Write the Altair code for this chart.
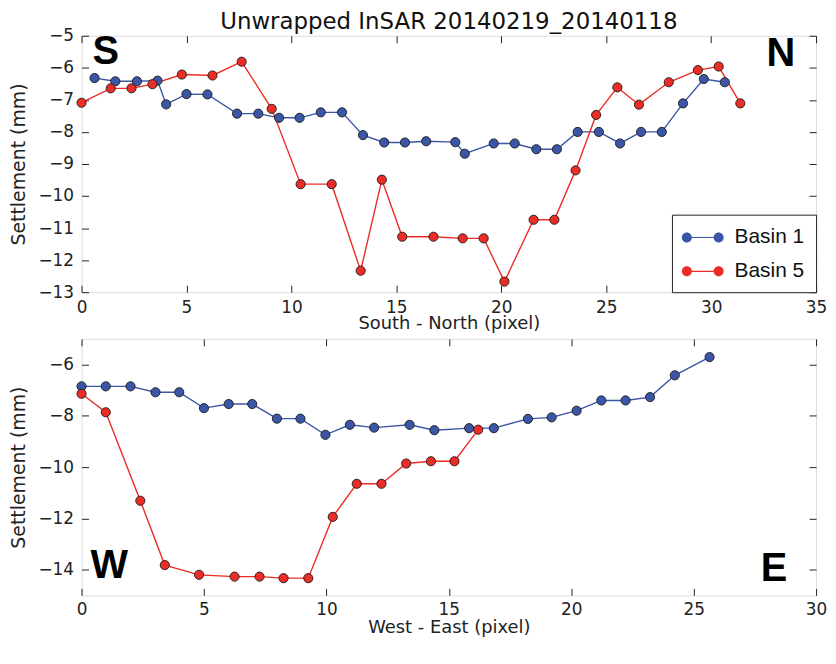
import altair as alt
import pandas as pd

# ---------------- data ----------------
series_names = ["Basin 1", "Basin 5"]
series_colors = ["#3b56a6", "#ec2d27"]

sn_b1_x = [0.62, 1.61, 2.64, 3.62, 4.03, 5.0, 6.0, 7.41, 8.42, 9.41, 10.39, 11.40, 12.41,
           13.41, 14.42, 15.41, 16.42, 17.81, 18.26, 19.64, 20.64, 21.67, 22.65, 23.64,
           24.65, 25.66, 26.66, 27.65, 28.66, 29.65, 30.65]
sn_b1_y = [-6.32, -6.42, -6.42, -6.40, -7.14, -6.82, -6.83, -7.43, -7.43, -7.56, -7.56, -7.39,
           -7.39, -8.10, -8.33, -8.33, -8.29, -8.32, -8.68, -8.36, -8.36, -8.54, -8.54, -8.0,
           -8.0, -8.36, -8.0, -8.0, -7.11, -6.35, -6.45]

sn_b5_x = [0.0, 1.39, 2.38, 3.38, 4.78, 6.24, 7.63, 9.06, 10.44, 11.92, 13.30, 14.31, 15.28,
           16.77, 18.16, 19.16, 20.15, 21.54, 22.53, 23.54, 24.52, 25.53, 26.56, 27.98,
           29.37, 30.36, 31.39]
sn_b5_y = [-7.09, -6.64, -6.64, -6.51, -6.21, -6.24, -5.81, -7.28, -9.63, -9.63, -12.33,
           -9.49, -11.27, -11.27, -11.32, -11.32, -12.67, -10.74, -10.74, -9.20, -7.47,
           -6.61, -7.15, -6.45, -6.07, -5.96, -7.11]

we_b1_x = [0.0, 0.99, 2.0, 3.02, 3.99, 5.0, 6.01, 6.97, 7.98, 8.94, 9.96, 10.96, 11.95,
           13.40, 14.41, 15.83, 16.84, 18.23, 19.2, 20.22, 21.23, 22.22, 23.22, 24.23, 25.65]
we_b1_y = [-6.85, -6.85, -6.85, -7.08, -7.08, -7.70, -7.54, -7.54, -8.11, -8.11, -8.74,
           -8.35, -8.46, -8.35, -8.56, -8.48, -8.48, -8.12, -8.06, -7.80, -7.40, -7.40,
           -7.27, -6.42, -5.71]

we_b5_x = [0.0, 0.99, 2.40, 3.40, 4.80, 6.25, 7.27, 8.25, 9.26, 10.26, 11.24, 12.25, 13.26,
           14.27, 15.23, 16.2]
we_b5_y = [-7.14, -7.86, -11.31, -13.82, -14.20, -14.27, -14.27, -14.33, -14.33, -11.94,
           -10.65, -10.65, -9.86, -9.77, -9.77, -8.54]

top_x_ticks = [0, 5, 10, 15, 20, 25, 30, 35]
top_y_ticks = [-13, -12, -11, -10, -9, -8, -7, -6, -5]
bot_x_ticks = [0, 5, 10, 15, 20, 25, 30]
bot_y_ticks = [-14, -12, -10, -8, -6]

# ---------------- tables ----------------
def make_df(xs1, ys1, xs5, ys5):
    rows = [{"x": a, "y": b, "series": series_names[0], "order": i} for i, (a, b) in enumerate(zip(xs1, ys1))]
    rows += [{"x": a, "y": b, "series": series_names[1], "order": i} for i, (a, b) in enumerate(zip(xs5, ys5))]
    return pd.DataFrame(rows)

top_df = make_df(sn_b1_x, sn_b1_y, sn_b5_x, sn_b5_y)
bot_df = make_df(we_b1_x, we_b1_y, we_b5_x, we_b5_y)

W, H = 739, 258
TICK = 7
FONT = "DejaVu Sans"
SANS = "Liberation Sans"

# legend symbol: line with a circle at each end (custom path)
legend_path = ("M-1.333,0 m-0.42,0 a0.42,0.42 0 1,0 0.84,0 a0.42,0.42 0 1,0 -0.84,0 "
               "M1.333,0 m-0.42,0 a0.42,0.42 0 1,0 0.84,0 a0.42,0.42 0 1,0 -0.84,0 "
               "M-0.92,-0.05 L0.92,-0.05 L0.92,0.05 L-0.92,0.05 Z")

color_scale = alt.Scale(domain=series_names, range=series_colors)


def main_axis(ticks, title, orient, lab_pad=7, title_pad=1):
    return alt.Axis(values=ticks, title=title, orient=orient, offset=-TICK, tickSize=TICK,
                    domain=False, grid=False, tickColor="#222", tickWidth=1,
                    labelFont=FONT, labelFontSize=17, labelColor="#222",
                    labelPadding=lab_pad,
                    titleFont=FONT, titleFontSize=18 if orient == "bottom" else 19,
                    titleFontWeight="normal", titleColor="#222",
                    titlePadding=title_pad,
                    labelFlush=False, labelOverlap=False)


def mirror_axis(ticks, orient):
    return alt.Axis(values=ticks, title=None, orient=orient, offset=-TICK, tickSize=TICK,
                    domain=False, grid=False, labels=False, tickColor="#222", tickWidth=1)


def panel(df, xdom, ydom, xticks, yticks, xtitle, letters, show_legend, xpads, title=None):
    xs = alt.Scale(domain=xdom, nice=False, zero=False)
    ys = alt.Scale(domain=ydom, nice=False, zero=False)
    legend = None
    if show_legend:
        legend = alt.Legend(title=None, orient="bottom-right", offset=0,
                            fillColor="white", strokeColor="#222",
                            padding=11, symbolType=legend_path, symbolSize=576,
                            symbolStrokeWidth=0, symbolOffset=8, rowPadding=12,
                            labelFont=SANS, labelFontSize=21, labelColor="#111",
                            labelOffset=20, labelExpr="datum.label + ' '")
    lines = alt.Chart(df).mark_line(strokeWidth=1.4).encode(
        x=alt.X("x:Q", scale=xs, axis=main_axis(xticks, xtitle, "bottom", xpads[0], xpads[1])),
        y=alt.Y("y:Q", scale=ys, axis=main_axis(yticks, "Settlement (mm)", "left", 8, 10)),
        color=alt.Color("series:N", scale=color_scale, legend=legend),
        order="order:Q",
        detail="series:N",
    )
    pts = alt.Chart(df).mark_point(filled=True, size=85, stroke="#1a1a1a", strokeWidth=0.9,
                                   opacity=1).encode(
        x=alt.X("x:Q", scale=xs, axis=mirror_axis(xticks, "top")),
        y=alt.Y("y:Q", scale=ys, axis=mirror_axis(yticks, "right")),
        color=alt.Color("series:N", scale=color_scale, legend=legend),
    )
    lt = pd.DataFrame({"t": [letters[0]]})
    rt = pd.DataFrame({"t": [letters[1]]})
    txt_l = alt.Chart(lt).mark_text(font=SANS, fontSize=40, fontWeight="bold", color="black",
                                    align="left", baseline="alphabetic").encode(
        text="t:N", x=alt.value(letters[2]), y=alt.value(letters[3]))
    txt_r = alt.Chart(rt).mark_text(font=SANS, fontSize=40, fontWeight="bold", color="black",
                                    align="right", baseline="alphabetic").encode(
        text="t:N", x=alt.value(letters[4]), y=alt.value(letters[5]))
    layer = alt.layer(lines, pts, txt_l, txt_r).resolve_axis(x="independent", y="independent")
    props = dict(width=W, height=H)
    if title is not None:
        props["title"] = alt.TitleParams(title, font=FONT, fontSize=23, fontWeight="normal",
                                         color="#111", anchor="middle", frame="group", offset=-7)
    return layer.properties(**props)


top = panel(top_df, [0, 35], [-13, -5], top_x_ticks, top_y_ticks, "South - North (pixel)",
            ["S", "N", 11, 28, W - 21, 30], True, (7, 0),
            title="Unwrapped InSAR 20140219_20140118")
bot = panel(bot_df, [0, 30], [-15, -5], bot_x_ticks, bot_y_ticks, "West - East (pixel)",
            ["W", "E", 9, H - 17, W - 29, H - 14], False, (6, 1))

chart = alt.vconcat(top, bot, spacing=4).resolve_scale(color="independent").properties(
    padding={"left": 0, "top": 0, "right": 0, "bottom": 0}
).configure_view(stroke="#222", strokeWidth=1.2).configure(background="white")

chart.save("out.html", embed_options={"renderer": "svg", "actions": False})
